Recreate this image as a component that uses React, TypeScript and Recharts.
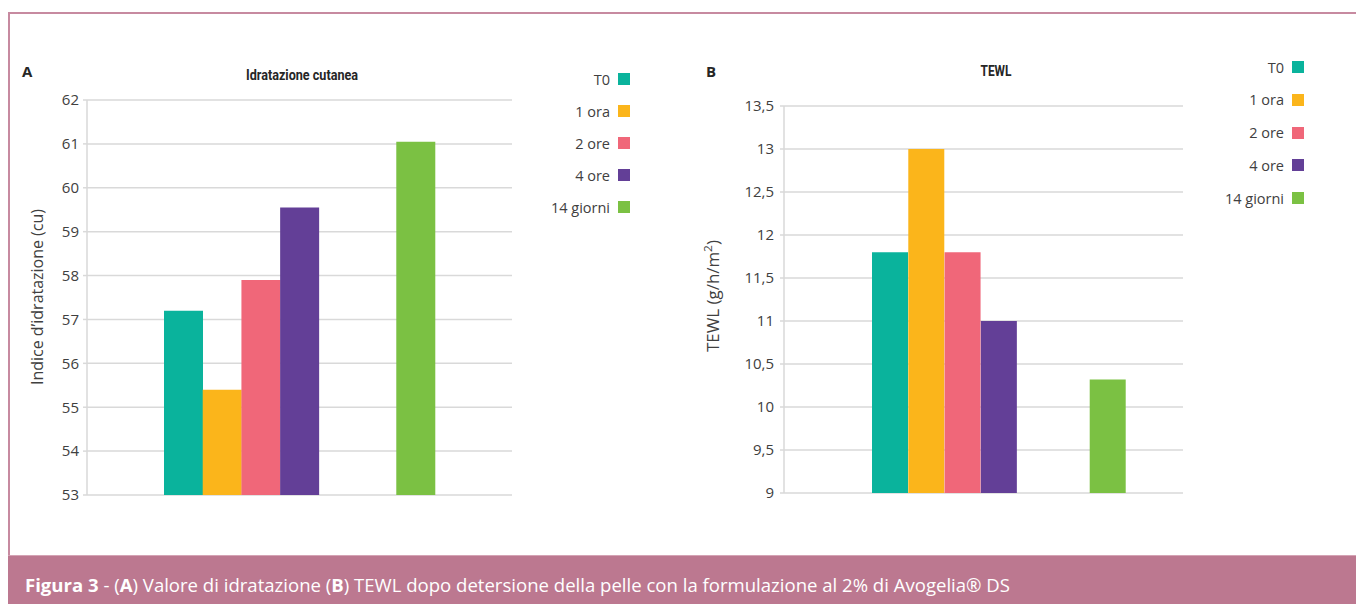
import React from 'react';
import { BarChart, Bar, XAxis, YAxis, CartesianGrid, Cell } from 'recharts';

const series = ['T0', '1 ora', '2 ore', '4 ore', '14 giorni'];
const seriesColors = ['#0ab39c', '#fbb51b', '#f06779', '#633f97', '#7bc143'];

// (A) Indice d'idratazione (cu)
const idratazione = [57.2, 55.4, 57.9, 59.55, 61.05];
const idratazioneTicks = [53, 54, 55, 56, 57, 58, 59, 60, 61, 62];

// (B) TEWL (g/h/m2)
const tewl = [11.8, 13.0, 11.8, 11.0, 10.32];
const tewlTicks = [9, 9.5, 10, 10.5, 11, 11.5, 12, 12.5, 13, 13.5];

// two empty slots sit between "4 ore" and "14 giorni" in the original
const emptySlots = 2;

const FONT = '"Open Sans", "Noto Sans", sans-serif';
const TITLE_FONT = 'Roboto, "Open Sans", sans-serif';
const GRID = '#d9d9d9';
const TEXT = '#404040';

function buildRows(values: number[]) {
  const rows: { slot: string; value: number | null; color: string }[] = values
    .slice(0, 4)
    .map((v, i) => ({ slot: series[i], value: v, color: seriesColors[i] }));
  for (let k = 0; k < emptySlots; k++) rows.push({ slot: 'vuoto' + k, value: null, color: 'none' });
  rows.push({ slot: series[4], value: values[4], color: seriesColors[4] });
  return rows;
}

const fmt = (v: number) => String(v).replace('.', ',');

type PanelProps = {
  left: number;
  width: number;
  height: number;
  margin: { top: number; right: number; bottom: number; left: number };
  padding: { left: number; right: number };
  values: number[];
  domain: [number, number];
  ticks: number[];
  tickMargin: number;
  labelX: number;
  labelY: number;
  labelLen: number;
  label: React.ReactNode;
};

function Panel(p: PanelProps) {
  const data = buildRows(p.values);
  return (
    <div style={{ position: 'absolute', left: p.left, top: 0 }}>
      <BarChart width={p.width} height={p.height} data={data} margin={p.margin} barCategoryGap={0} barGap={0}>
        <CartesianGrid vertical={false} stroke={GRID} strokeWidth={1.5} />
        <XAxis dataKey="slot" hide padding={p.padding} />
        <YAxis
          type="number"
          domain={p.domain}
          ticks={p.ticks}
          interval={0}
          width={60}
          tickSize={4}
          tickMargin={p.tickMargin}
          axisLine={{ stroke: GRID, strokeWidth: 1.5 }}
          tickLine={{ stroke: GRID, strokeWidth: 1.5 }}
          tick={{ fill: TEXT, fontSize: 15, fontFamily: FONT }}
          tickFormatter={fmt}
          label={() => (
            <text
              x={p.labelX}
              y={p.labelY}
              transform={`rotate(-90 ${p.labelX} ${p.labelY})`}
              textAnchor="middle"
              dominantBaseline="central"
              fill={TEXT}
              fontSize={15.5}
              fontFamily={FONT}
              textLength={p.labelLen}
              lengthAdjust="spacingAndGlyphs"
            >
              {p.label}
            </text>
          )}
        />
        <Bar dataKey="value" isAnimationActive={false}>
          {data.map((d) => (
            <Cell key={d.slot} fill={d.color} />
          ))}
        </Bar>
      </BarChart>
    </div>
  );
}

function Legend({ right, top, step }: { right: number; top: number; step: number }) {
  return (
    <>
      {series.map((s, i) => (
        <div
          key={s}
          style={{
            position: 'absolute',
            left: right - 200,
            width: 200,
            top: top + i * step - 10,
            height: 20,
            display: 'flex',
            alignItems: 'center',
            justifyContent: 'flex-end',
            fontFamily: FONT,
            fontSize: 14.5,
            color: TEXT,
          }}
        >
          <span>{s}</span>
          <span style={{ display: 'inline-block', width: 12, height: 12, marginLeft: 8, background: seriesColors[i] }} />
        </div>
      ))}
    </>
  );
}

// chart titles, fitted to the narrow width of the original face
function Title({ cx, y, len, text }: { cx: number; y: number; len: number; text: string }) {
  const w = 300;
  return (
    <svg width={w} height={26} style={{ position: 'absolute', left: cx - w / 2, top: y - 19 }}>
      <text
        x={w / 2}
        y={19}
        textAnchor="middle"
        fill="#262626"
        fontFamily={TITLE_FONT}
        fontWeight={700}
        fontSize={15.5}
        textLength={len}
        lengthAdjust="spacingAndGlyphs"
      >
        {text}
      </text>
    </svg>
  );
}

const letter: React.CSSProperties = {
  position: 'absolute',
  fontFamily: FONT,
  fontWeight: 700,
  fontSize: 15,
  color: '#262626',
  lineHeight: '20px',
};

export default function App() {
  return (
    <div style={{ position: 'absolute', left: 0, top: 0, width: 1356, height: 604, background: '#fff', overflow: 'hidden' }}>
      {/* frame */}
      <div
        style={{
          position: 'absolute',
          left: 8,
          top: 12,
          width: 1360,
          height: 543,
          borderTop: '2px solid #c78aa0',
          borderLeft: '2px solid #c78aa0',
          boxSizing: 'border-box',
        }}
      />

      <Panel
        left={0}
        width={530}
        height={520}
        margin={{ top: 100, right: 18, bottom: 25, left: 27 }}
        padding={{ left: 77, right: 77 }}
        values={idratazione}
        domain={[53, 62]}
        ticks={idratazioneTicks}
        tickMargin={4}
        labelX={37}
        labelY={297}
        labelLen={176}
        label="Indice d’idratazione (cu)"
      />
      <Panel
        left={680}
        width={520}
        height={520}
        margin={{ top: 106, right: 17, bottom: 27, left: 44 }}
        padding={{ left: 88, right: 57 }}
        values={tewl}
        domain={[9, 13.5]}
        ticks={tewlTicks}
        tickMargin={6}
        labelX={33}
        labelY={296}
        labelLen={112}
        label={
          <>
            TEWL (g/h/m
            <tspan dy={-6} fontSize={11}>2</tspan>
            <tspan dy={6}>)</tspan>
          </>
        }
      />

      <div style={{ ...letter, left: 22, top: 61 }}>A</div>
      <Title cx={302} y={80} len={112} text="Idratazione cutanea" />
      <div style={{ ...letter, left: 706, top: 61 }}>B</div>
      <Title cx={996} y={76} len={31} text="TEWL" />

      <Legend right={630} top={79} step={32} />
      <Legend right={1304} top={67} step={32.75} />

      {/* caption */}
      <div
        style={{
          position: 'absolute',
          left: 8,
          top: 555,
          width: 1360,
          height: 49,
          background: '#bc7890',
          borderTop: '1px solid #d4a3b4',
          boxSizing: 'border-box',
        }}
      >
        <svg width={1100} height={48} style={{ position: 'absolute', left: 0, top: 0 }}>
          <text
            x={17}
            y={36}
            fill="#fff"
            fontFamily={FONT}
            fontSize={18.5}
            textLength={985}
            lengthAdjust="spacingAndGlyphs"
          >
            <tspan fontWeight={700}>Figura 3</tspan>
            <tspan> - (</tspan>
            <tspan fontWeight={700}>A</tspan>
            <tspan>) Valore di idratazione (</tspan>
            <tspan fontWeight={700}>B</tspan>
            <tspan>) TEWL dopo detersione della pelle con la formulazione al 2% di Avogelia® DS</tspan>
          </text>
        </svg>
      </div>
    </div>
  );
}
